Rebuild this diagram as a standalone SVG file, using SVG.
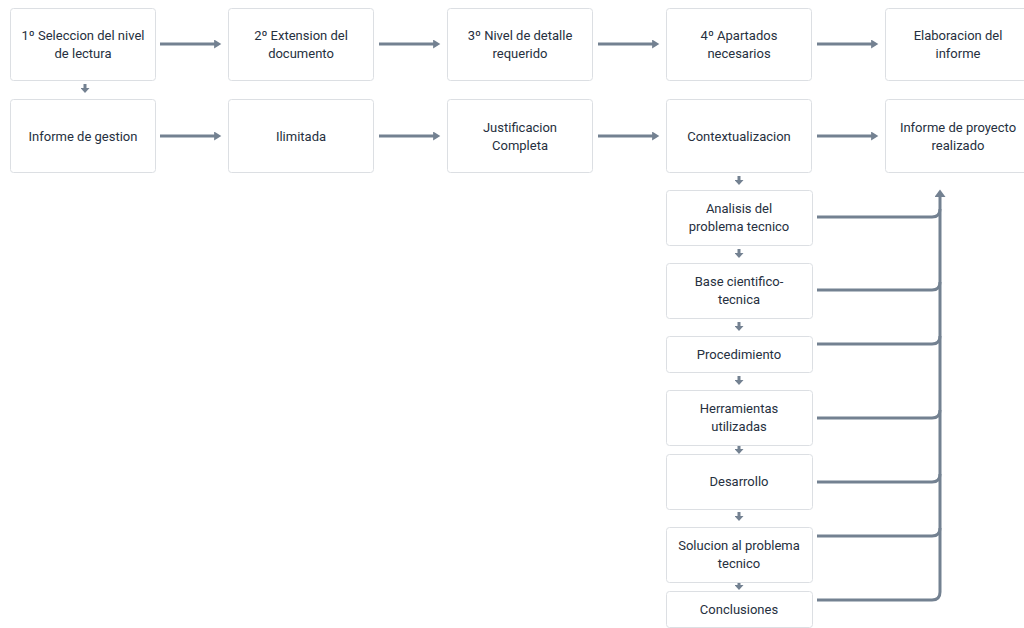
<svg xmlns="http://www.w3.org/2000/svg" width="1024" height="628" viewBox="0 0 1024 628">
  <defs>
    <marker id="head" viewBox="0 0 8 10" refX="1" refY="5" markerWidth="8" markerHeight="9" markerUnits="userSpaceOnUse" orient="auto">
      <path d="M0,0 L8,5 L0,10 Z" fill="#738191"/>
    </marker>
    <marker id="head-sm" viewBox="0 0 5 9" refX="1" refY="4.5" markerWidth="5" markerHeight="9" markerUnits="userSpaceOnUse" orient="auto">
      <path d="M0,0 L5,4.5 L0,9 Z" fill="#738191"/>
    </marker>
    <marker id="head-up" viewBox="0 0 8 12" refX="1" refY="6" markerWidth="8" markerHeight="11" markerUnits="userSpaceOnUse" orient="auto">
      <path d="M0,0 L8,6 L0,12 Z" fill="#738191"/>
    </marker>
  </defs>
  <style>
    .box { fill: #ffffff; stroke: #dcdfe3; stroke-width: 1; }
    .lbl { font-family: Roboto, "Liberation Sans", sans-serif; font-size: 13px; font-weight: 400; fill: #263040; text-anchor: middle; }
    .flow { fill: none; stroke: #738191; stroke-width: 3; marker-end: url(#head); }
    .step { fill: none; stroke: #738191; stroke-width: 3; marker-end: url(#head-sm); }
    .bus { fill: none; stroke: #738191; stroke-width: 3; stroke-linejoin: round; }
  </style>
  <rect width="1024" height="628" fill="#ffffff"/>

  <!-- connectors -->
  <g id="connectors">
    <!-- top row -->
    <path class="flow" d="M160,44 H215"/>
    <path class="flow" d="M379,44 H434"/>
    <path class="flow" d="M598,44 H653"/>
    <path class="flow" d="M817,44 H872"/>
    <!-- second row -->
    <path class="flow" d="M160,136 H215"/>
    <path class="flow" d="M379,136 H434"/>
    <path class="flow" d="M598,136 H653"/>
    <path class="flow" d="M817,136 H872"/>
    <!-- short downward steps -->
    <path class="step" d="M85,84 V89"/>
    <path class="step" d="M739,176 V181"/>
    <path class="step" d="M739,249 V254"/>
    <path class="step" d="M739,322 V327"/>
    <path class="step" d="M739,376 V381"/>
    <path class="step" d="M739,446 V450"/>
    <path class="step" d="M739,512 V517"/>
    <path class="step" d="M739,582 V586"/>
    <!-- section branches merging into the bus -->
    <path class="bus" d="M817,217 H932 Q940,217 940,209"/>
    <path class="bus" d="M817,290 H932 Q940,290 940,282"/>
    <path class="bus" d="M817,344 H932 Q940,344 940,336"/>
    <path class="bus" d="M817,418 H932 Q940,418 940,410"/>
    <path class="bus" d="M817,482 H932 Q940,482 940,474"/>
    <path class="bus" d="M817,536 H932 Q940,536 940,528"/>
    <path class="bus" d="M817,600 H932 Q940,600 940,592 V196" marker-end="url(#head-up)"/>
  </g>

  <!-- top row -->
  <g id="n-seleccion">
    <rect class="box" x="10.5" y="8.5" width="145" height="72" rx="3"/>
    <text class="lbl" x="83" y="40">1º Seleccion del nivel</text>
    <text class="lbl" x="83" y="58">de lectura</text>
  </g>
  <g id="n-extension">
    <rect class="box" x="228.5" y="8.5" width="145" height="72" rx="3"/>
    <text class="lbl" x="301" y="40">2º Extension del</text>
    <text class="lbl" x="301" y="58">documento</text>
  </g>
  <g id="n-nivel">
    <rect class="box" x="447.5" y="8.5" width="145" height="72" rx="3"/>
    <text class="lbl" x="520" y="40">3º Nivel de detalle</text>
    <text class="lbl" x="520" y="58">requerido</text>
  </g>
  <g id="n-apartados">
    <rect class="box" x="666.5" y="8.5" width="145" height="72" rx="3"/>
    <text class="lbl" x="739" y="40">4º Apartados</text>
    <text class="lbl" x="739" y="58">necesarios</text>
  </g>
  <g id="n-elaboracion">
    <rect class="box" x="885.5" y="8.5" width="145" height="72" rx="3"/>
    <text class="lbl" x="958" y="40">Elaboracion del</text>
    <text class="lbl" x="958" y="58">informe</text>
  </g>

  <!-- second row -->
  <g id="n-gestion">
    <rect class="box" x="10.5" y="99.5" width="145" height="73" rx="3"/>
    <text class="lbl" x="83" y="141">Informe de gestion</text>
  </g>
  <g id="n-ilimitada">
    <rect class="box" x="228.5" y="99.5" width="145" height="73" rx="3"/>
    <text class="lbl" x="301" y="141">Ilimitada</text>
  </g>
  <g id="n-justificacion">
    <rect class="box" x="447.5" y="99.5" width="145" height="73" rx="3"/>
    <text class="lbl" x="520" y="132">Justificacion</text>
    <text class="lbl" x="520" y="150">Completa</text>
  </g>
  <g id="n-contextualizacion">
    <rect class="box" x="666.5" y="99.5" width="145" height="73" rx="3"/>
    <text class="lbl" x="739" y="141">Contextualizacion</text>
  </g>
  <g id="n-proyecto">
    <rect class="box" x="885.5" y="99.5" width="145" height="73" rx="3"/>
    <text class="lbl" x="958" y="132">Informe de proyecto</text>
    <text class="lbl" x="958" y="150">realizado</text>
  </g>

  <!-- report sections -->
  <g id="n-analisis">
    <rect class="box" x="666.5" y="190.5" width="146" height="55" rx="3"/>
    <text class="lbl" x="739" y="213">Analisis del</text>
    <text class="lbl" x="739" y="231">problema tecnico</text>
  </g>
  <g id="n-base">
    <rect class="box" x="666.5" y="263.5" width="146" height="55" rx="3"/>
    <text class="lbl" x="739" y="286">Base cientifico-</text>
    <text class="lbl" x="739" y="304">tecnica</text>
  </g>
  <g id="n-procedimiento">
    <rect class="box" x="666.5" y="336.5" width="146" height="36" rx="3"/>
    <text class="lbl" x="739" y="359">Procedimiento</text>
  </g>
  <g id="n-herramientas">
    <rect class="box" x="666.5" y="390.5" width="146" height="55" rx="3"/>
    <text class="lbl" x="739" y="413">Herramientas</text>
    <text class="lbl" x="739" y="431">utilizadas</text>
  </g>
  <g id="n-desarrollo">
    <rect class="box" x="666.5" y="454.5" width="146" height="55" rx="3"/>
    <text class="lbl" x="739" y="486">Desarrollo</text>
  </g>
  <g id="n-solucion">
    <rect class="box" x="666.5" y="527.5" width="146" height="55" rx="3"/>
    <text class="lbl" x="739" y="550">Solucion al problema</text>
    <text class="lbl" x="739" y="568">tecnico</text>
  </g>
  <g id="n-conclusiones">
    <rect class="box" x="666.5" y="591.5" width="146" height="36" rx="3"/>
    <text class="lbl" x="739" y="614">Conclusiones</text>
  </g>
</svg>
